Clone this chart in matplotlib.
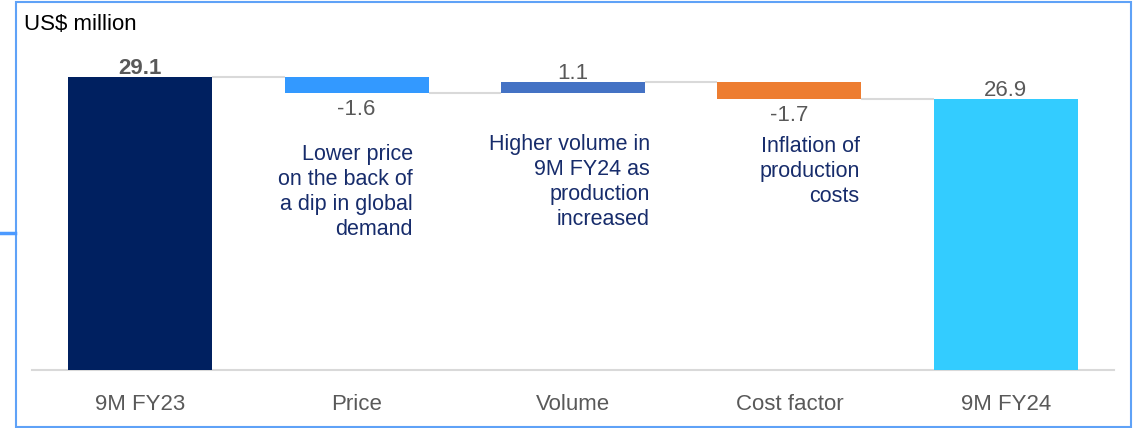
import numpy as np
import matplotlib.pyplot as plt
from matplotlib.patches import Rectangle
from matplotlib.lines import Line2D

plt.rcParams['font.family'] = ['Liberation Sans', 'DejaVu Sans']

# chart data
categories = ['9M FY23', 'Price', 'Volume', 'Cost factor', '9M FY24']
values = [29.1, -1.6, 1.1, -1.7, 26.9]
value_labels = ['29.1', '-1.6', '1.1', '-1.7', '26.9']
is_total = [True, False, False, False, True]
notes = ['', 'Lower price\non the back of\na dip in global\ndemand',
         'Higher volume in\n9M FY24 as\nproduction\nincreased',
         'Inflation of\nproduction\ncosts', '']
note_x = [0, 1.26, 2.355, 3.325, 0]
note_y = [0, 22.4, 23.4, 23.2, 0]
colors = ['#002060', '#3399FF', '#4472C4', '#ED7D31', '#33CCFF']

W, H = 1140, 428
fig = plt.figure(figsize=(W / 100, H / 100), dpi=100)
ax = fig.add_axes([32 / W, 1 - 370 / H, (1114 - 32) / W, (370 - 40) / H])

x = np.arange(len(categories))
width = 0.665
bottoms, heights, levels = [], [], []
running = 0.0
for v, tot in zip(values, is_total):
    if tot:
        bottoms.append(0)
        heights.append(v)
        running = v
    else:
        bottoms.append(min(running, running + v))
        heights.append(abs(v))
        running += v
    levels.append(running)

ax.bar(x, heights, bottom=bottoms, width=width, color=colors, zorder=3)

# connectors
for i in range(len(x) - 1):
    ax.plot([x[i] + width / 2, x[i + 1] - width / 2], [levels[i], levels[i]],
            color='#D9D9D9', lw=1.5, zorder=2, solid_capstyle='butt')

# value labels
for i, v in enumerate(values):
    top = bottoms[i] + heights[i]
    if v >= 0:
        ax.annotate(value_labels[i], (x[i], top), xytext=(0, -1.5),
                    textcoords='offset points', ha='center', va='bottom',
                    fontsize=16, color='#595959',
                    fontweight='bold' if i == 0 else 'normal')
    else:
        ax.annotate(value_labels[i], (x[i], bottoms[i]), xytext=(0, -4.5),
                    textcoords='offset points', ha='center', va='top',
                    fontsize=16, color='#595959')

# commentary
for i, n in enumerate(notes):
    if n:
        ax.text(note_x[i], note_y[i], n, ha='right', va='top', fontsize=15.5,
                color='#172C6B', linespacing=1.25)

ax.set_xlim(-0.5, 4.5)
ax.set_ylim(0, 32.77)
ax.set_xticks(x)
ax.set_xticklabels(categories, fontsize=16, color='#595959')
ax.tick_params(axis='x', length=0, pad=17.5)
ax.set_yticks([])
for s in ['top', 'right', 'left']:
    ax.spines[s].set_visible(False)
ax.spines['bottom'].set_color('#D9D9D9')
ax.spines['bottom'].set_linewidth(1.5)

fig.text(24 / W, 1 - 25 / H, 'US$ million', fontsize=16, color='black',
         ha='left', va='center')

# outer frame and side marker
fig.patches.append(Rectangle((15.5 / W, 1.5 / H), (1131 - 15.5) / W, (426 - 1.5) / H,
                             transform=fig.transFigure, fill=False,
                             edgecolor='#5FA2F7', lw=1.5))
fig.lines.append(Line2D([0, 15 / W], [1 - 233 / H, 1 - 233 / H],
                        transform=fig.transFigure, color='#4C9AFF', lw=2.5))

fig.savefig('out.png', dpi=100)
